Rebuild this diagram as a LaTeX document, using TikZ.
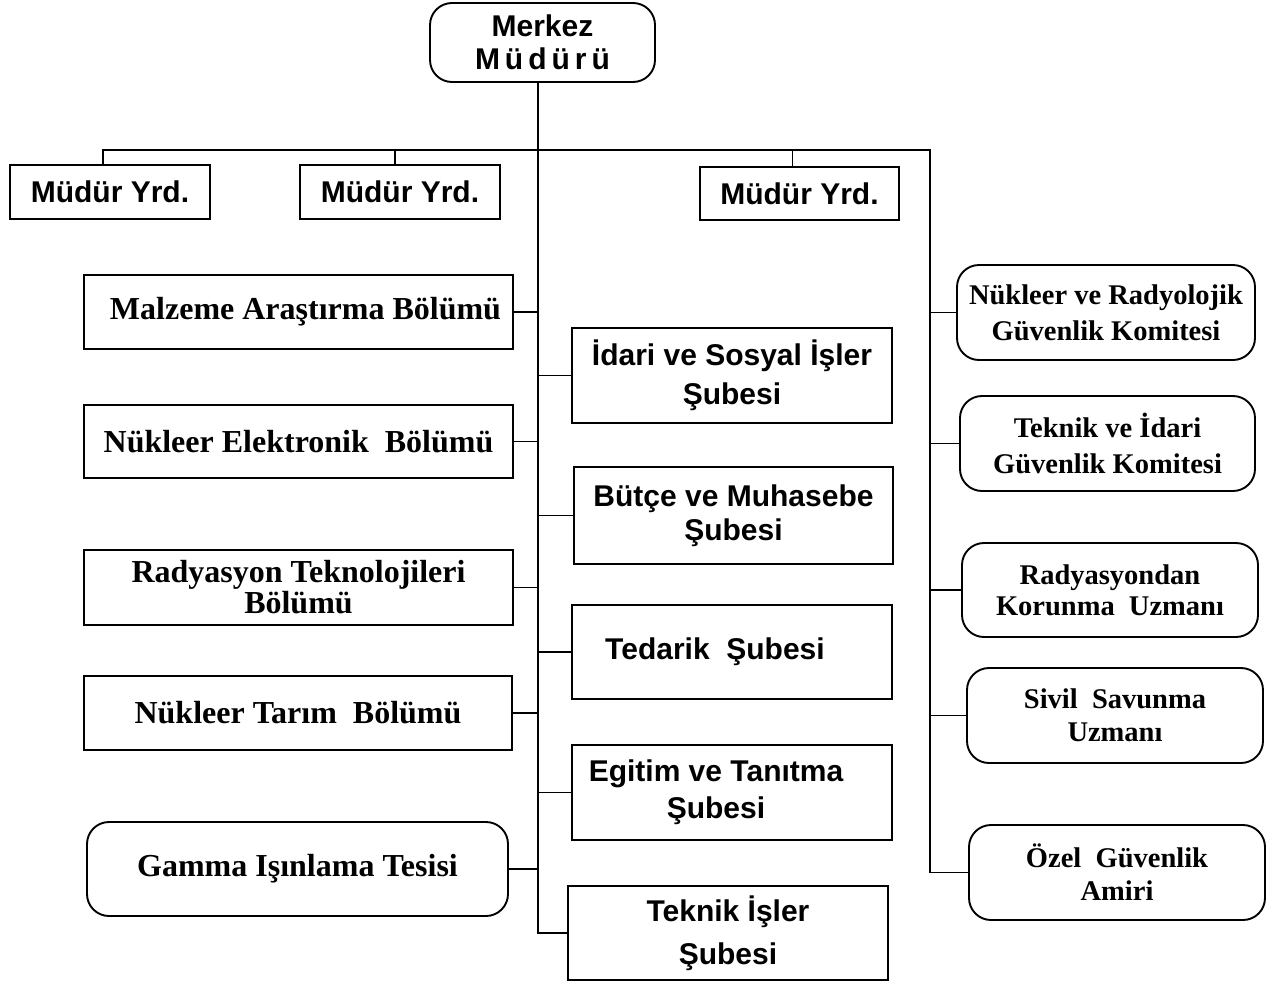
\documentclass[tikz,border=0pt]{standalone}
\usepackage{fontspec}
\setmainfont{Liberation Serif}
\newfontfamily\sansf{Liberation Sans}
\begin{document}
\begin{tikzpicture}[x=1pt,y=-1pt,
  box/.style={draw, line width=1.9pt, inner sep=0pt, align=center, anchor=center},
  rbox/.style={box, rounded corners=22pt},
  sanst/.style={font=\sansf\bfseries\fontsize{30}{37}\selectfont},
  lserif/.style={font=\fontsize{32}{31}\selectfont\bfseries},
  rserif/.style={font=\fontsize{28.5}{36}\selectfont\bfseries},
  conn/.style={line width=1.7pt}]
\useasboundingbox (0,0) rectangle (1269,983);
% top
\node[rbox, sanst, minimum width=225pt, minimum height=79pt] (merkez) at (542.5,42.5) {Merkez\\[-4pt]M\,ü\,d\,ü\,r\,ü};
\node[box, sanst, minimum width=200pt, minimum height=54pt] (yrd1) at (110,192) {Müdür Yrd.};
\node[box, sanst, minimum width=200pt, minimum height=54pt] (yrd2) at (400,192) {Müdür Yrd.};
\node[box, sanst, minimum width=199pt, minimum height=53pt] (yrd3) at (799.5,193.5) {Müdür Yrd.};
% left column
\node[box, lserif, minimum width=429pt, minimum height=74pt] (malz) at (298.5,312) {\hspace*{14pt}Malzeme Araştırma Bölümü};
\node[box, lserif, minimum width=429pt, minimum height=73pt] (nelek) at (298.5,441.5) {Nükleer Elektronik\ \ Bölümü};
\node[box, lserif, minimum width=429pt, minimum height=75pt] (radt) at (298.5,587.5) {Radyasyon Teknolojileri\\Bölümü};
\node[box, lserif, minimum width=428pt, minimum height=74pt] (ntar) at (298,713) {Nükleer Tarım\ \ Bölümü};
\node[rbox, lserif, minimum width=421pt, minimum height=94pt] (gamma) at (297.5,869) {Gamma Işınlama Tesisi};
% middle column
\node[box, sanst, minimum width=320pt, minimum height=95pt] (idari) at (732,375.5) {İdari ve Sosyal İşler\\[2pt]Şubesi};
\node[box, sanst, minimum width=319pt, minimum height=97pt] (butce) at (733.5,515.5) {Bütçe ve Muhasebe\\[-3pt]Şubesi};
\node[box, sanst, minimum width=320pt, minimum height=94pt] (tedar) at (732,652) {Tedarik\ \ Şubesi\hspace*{34pt}};
\node[box, sanst, minimum width=320pt, minimum height=95pt] (egit) at (732,792.5) {Egitim ve Tanıtma\hspace*{32pt}\\Şubesi\hspace*{32pt}};
\node[box, sanst, minimum width=320pt, minimum height=94pt] (tekis) at (728,933) {Teknik İşler\\[6pt]Şubesi};
% right column
\node[rbox, rserif, minimum width=298pt, minimum height=95pt] (nrk) at (1106,312.5) {Nükleer ve Radyolojik\\Güvenlik Komitesi};
\node[rbox, rserif, minimum width=295pt, minimum height=95pt] (tik) at (1107.5,443.5) {Teknik ve İdari\\Güvenlik Komitesi};
\node[rbox, rserif, minimum width=296pt, minimum height=94pt] (rkum) at (1110,590) {Radyasyondan\\[-5pt]Korunma\ \ Uzmanı};
\node[rbox, rserif, minimum width=296pt, minimum height=95pt] (ssu) at (1115,715.5) {Sivil\ \ Savunma\\[-3pt]Uzmanı};
\node[rbox, rserif, minimum width=296pt, minimum height=95pt] (ozel) at (1117,872.5) {Özel\ \ Güvenlik\\[-3pt]Amiri};
% connectors
\coordinate (hub) at (538,150);
\coordinate (barR) at (930,150);
\draw[conn] (merkez.south -| hub) -- (tekis.west -| hub) -- (tekis.west);
\draw[conn] ([xshift=-7pt]yrd1.north) |- (barR) -- (ozel.west -| barR) -- (ozel.west);
\draw[conn] ([xshift=-5pt]yrd2.north) -- ([xshift=-5pt]yrd2.north |- hub);
\draw[conn] ([xshift=-7pt]yrd3.north) -- ([xshift=-7pt]yrd3.north |- hub);
\foreach \n in {malz,nelek,radt,ntar,gamma}
  \draw[conn] (\n.east) -- (\n.east -| hub);
\foreach \n in {idari,butce,tedar,egit}
  \draw[conn] (\n.west -| hub) -- (\n.west);
\foreach \n in {nrk,tik,rkum,ssu}
  \draw[conn] (\n.west -| barR) -- (\n.west);
\end{tikzpicture}
\end{document}
